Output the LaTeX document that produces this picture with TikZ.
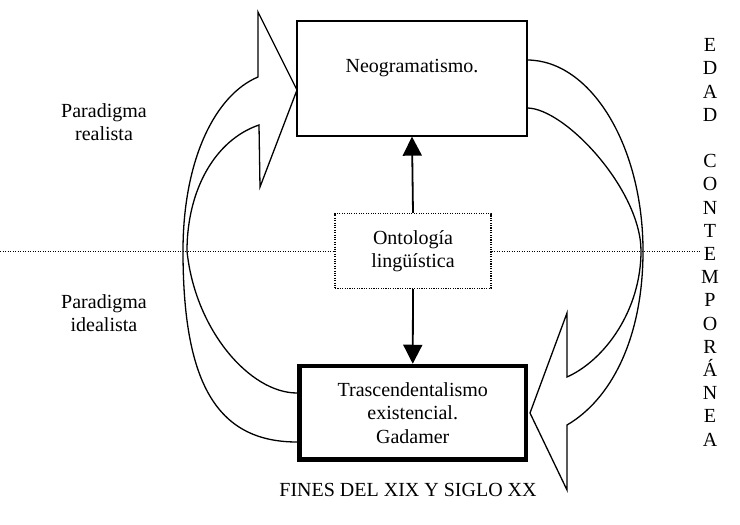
\documentclass[tikz,border=0pt]{standalone}
\usepackage{fontspec}
\setmainfont{Liberation Serif}
\usetikzlibrary{arrows.meta}
\begin{document}
\begin{tikzpicture}[x=1pt,y=-1pt,
  font=\fontsize{20}{23.5}\selectfont,
  plainbox/.style={draw, line width=1.3pt, inner sep=0pt},
  dotbox/.style={draw, line width=1.1pt, dash pattern=on 1.1pt off 1.3pt, inner sep=0pt, align=center},
  thickbox/.style={draw, line width=4.5pt, inner sep=0pt, align=center},
  dotline/.style={line width=1pt, dash pattern=on 1.1pt off 1.4pt},
  link/.style={line width=1.8pt, -{Triangle[length=19pt,width=19pt]}},
  bigarrow/.style={line width=1.3pt, line join=miter},
  lbl/.style={align=center, inner sep=0pt}]
\useasboundingbox (0,0) rectangle (740,525);

% boxes
\node[plainbox, minimum width=230pt, minimum height=115pt] (neo) at (412,78.5) {};
\node (neotext) at (412,68) {Neogramatismo.};
\node[dotbox, minimum width=156pt, minimum height=75pt] (onto) at (413,251) {Ontología\\lingüística};
\node[thickbox, minimum width=226.5pt, minimum height=93.5pt] (trans) at (412.75,412.75) {Trascendentalismo\\existencial.\\Gadamer};

% horizontal dotted line
\coordinate (dl) at (0,251);
\coordinate (dr) at (700,251);
\draw[dotline] (dl) -- (onto.west);
\draw[dotline] (onto.east) -- (dr);

% vertical arrows
\draw[link] (onto.north) -- (neo.south);
\draw[link] (onto.south) -- (trans.north);

% left curved block arrow (up to Neogramatismo)
\draw[bigarrow] (297,393) .. controls (250,393) and (195,330) .. (187,251)
  .. controls (187,190) and (215,140) .. (259,125)
  -- (260,187) -- (297,90) -- (258,12) -- (258,77)
  .. controls (215,95) and (183,160) .. (183,251)
  .. controls (183,380) and (215,442) .. (297,442);

% right curved block arrow (down to Trascendentalismo)
\draw[bigarrow] (527,60) .. controls (591,60) and (643,146) .. (643,251)
  .. controls (643,340) and (610,400) .. (567,425)
  -- (567,490) -- (530,413) -- (567,313) -- (567,377)
  .. controls (605,360) and (641,310) .. (641,251)
  .. controls (641,190) and (565,108) .. (527,108);

% labels
\node[lbl] (real) at (104,122) {Paradigma\\realista};
\node[lbl] (ideal) at (104,313) {Paradigma\\idealista};
\node[lbl, anchor=north, font=\fontsize{20}{23.2}\selectfont] (edad) at (710,38.4)
  {E\\D\\A\\D\\[23.2pt]C\\O\\N\\T\\E\\M\\P\\O\\R\\Á\\N\\E\\A};
\node (fines) at (408,490) {FINES DEL XIX Y SIGLO XX};
\end{tikzpicture}
\end{document}
